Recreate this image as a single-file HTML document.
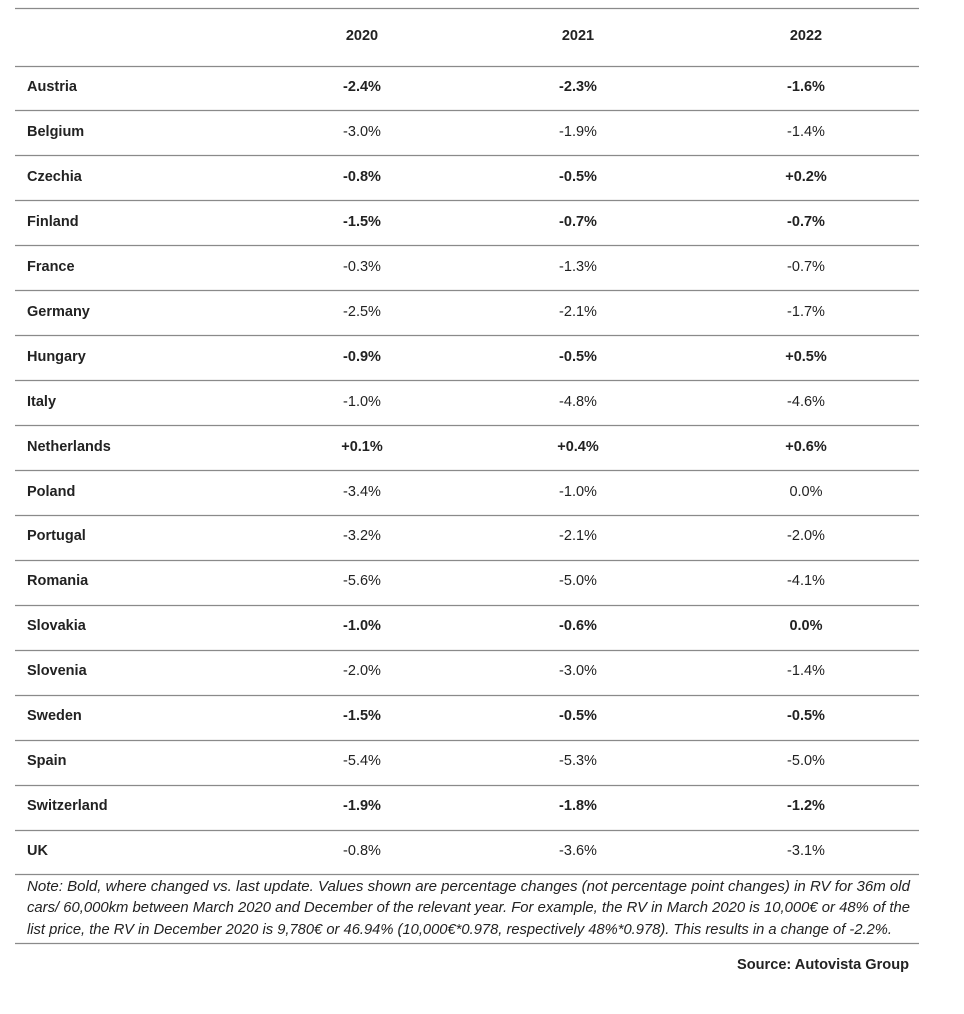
<!DOCTYPE html>
<html><head><meta charset="utf-8"><style>
body{margin:0;background:#fff}
svg text{font-family:"Liberation Sans",sans-serif;font-size:14.5px;fill:#222}
.b{font-weight:bold}
.c{text-anchor:middle}
</style></head><body>
<svg width="964" height="1009" xmlns="http://www.w3.org/2000/svg">
<g stroke="#8a8a8a" stroke-width="1.3">
<line x1="15" x2="919" y1="8.5" y2="8.5"/>
<line x1="15" x2="919" y1="66.5" y2="66.5"/>
<line x1="15" x2="919" y1="110.5" y2="110.5"/>
<line x1="15" x2="919" y1="155.5" y2="155.5"/>
<line x1="15" x2="919" y1="200.5" y2="200.5"/>
<line x1="15" x2="919" y1="245.5" y2="245.5"/>
<line x1="15" x2="919" y1="290.5" y2="290.5"/>
<line x1="15" x2="919" y1="335.5" y2="335.5"/>
<line x1="15" x2="919" y1="380.5" y2="380.5"/>
<line x1="15" x2="919" y1="425.5" y2="425.5"/>
<line x1="15" x2="919" y1="470.5" y2="470.5"/>
<line x1="15" x2="919" y1="515.5" y2="515.5"/>
<line x1="15" x2="919" y1="560.5" y2="560.5"/>
<line x1="15" x2="919" y1="605.5" y2="605.5"/>
<line x1="15" x2="919" y1="650.5" y2="650.5"/>
<line x1="15" x2="919" y1="695.5" y2="695.5"/>
<line x1="15" x2="919" y1="740.5" y2="740.5"/>
<line x1="15" x2="919" y1="785.5" y2="785.5"/>
<line x1="15" x2="919" y1="830.5" y2="830.5"/>
<line x1="15" x2="919" y1="874.5" y2="874.5"/>
<line x1="15" x2="919" y1="943.5" y2="943.5"/>
</g>
<text class="b c" x="362" y="40">2020</text><text class="b c" x="578" y="40">2021</text><text class="b c" x="806" y="40">2022</text>

<text class="b" x="27" y="91">Austria</text><text class="b c" x="362" y="91">-2.4%</text><text class="b c" x="578" y="91">-2.3%</text><text class="b c" x="806" y="91">-1.6%</text>
<text class="b" x="27" y="136">Belgium</text><text class="c" x="362" y="136">-3.0%</text><text class="c" x="578" y="136">-1.9%</text><text class="c" x="806" y="136">-1.4%</text>
<text class="b" x="27" y="181">Czechia</text><text class="b c" x="362" y="181">-0.8%</text><text class="b c" x="578" y="181">-0.5%</text><text class="b c" x="806" y="181">+0.2%</text>
<text class="b" x="27" y="226">Finland</text><text class="b c" x="362" y="226">-1.5%</text><text class="b c" x="578" y="226">-0.7%</text><text class="b c" x="806" y="226">-0.7%</text>
<text class="b" x="27" y="271">France</text><text class="c" x="362" y="271">-0.3%</text><text class="c" x="578" y="271">-1.3%</text><text class="c" x="806" y="271">-0.7%</text>
<text class="b" x="27" y="316">Germany</text><text class="c" x="362" y="316">-2.5%</text><text class="c" x="578" y="316">-2.1%</text><text class="c" x="806" y="316">-1.7%</text>
<text class="b" x="27" y="361">Hungary</text><text class="b c" x="362" y="361">-0.9%</text><text class="b c" x="578" y="361">-0.5%</text><text class="b c" x="806" y="361">+0.5%</text>
<text class="b" x="27" y="406">Italy</text><text class="c" x="362" y="406">-1.0%</text><text class="c" x="578" y="406">-4.8%</text><text class="c" x="806" y="406">-4.6%</text>
<text class="b" x="27" y="451">Netherlands</text><text class="b c" x="362" y="451">+0.1%</text><text class="b c" x="578" y="451">+0.4%</text><text class="b c" x="806" y="451">+0.6%</text>
<text class="b" x="27" y="496">Poland</text><text class="c" x="362" y="496">-3.4%</text><text class="c" x="578" y="496">-1.0%</text><text class="c" x="806" y="496">0.0%</text>
<text class="b" x="27" y="540">Portugal</text><text class="c" x="362" y="540">-3.2%</text><text class="c" x="578" y="540">-2.1%</text><text class="c" x="806" y="540">-2.0%</text>
<text class="b" x="27" y="585">Romania</text><text class="c" x="362" y="585">-5.6%</text><text class="c" x="578" y="585">-5.0%</text><text class="c" x="806" y="585">-4.1%</text>
<text class="b" x="27" y="630">Slovakia</text><text class="b c" x="362" y="630">-1.0%</text><text class="b c" x="578" y="630">-0.6%</text><text class="b c" x="806" y="630">0.0%</text>
<text class="b" x="27" y="675">Slovenia</text><text class="c" x="362" y="675">-2.0%</text><text class="c" x="578" y="675">-3.0%</text><text class="c" x="806" y="675">-1.4%</text>
<text class="b" x="27" y="720">Sweden</text><text class="b c" x="362" y="720">-1.5%</text><text class="b c" x="578" y="720">-0.5%</text><text class="b c" x="806" y="720">-0.5%</text>
<text class="b" x="27" y="765">Spain</text><text class="c" x="362" y="765">-5.4%</text><text class="c" x="578" y="765">-5.3%</text><text class="c" x="806" y="765">-5.0%</text>
<text class="b" x="27" y="810">Switzerland</text><text class="b c" x="362" y="810">-1.9%</text><text class="b c" x="578" y="810">-1.8%</text><text class="b c" x="806" y="810">-1.2%</text>
<text class="b" x="27" y="855">UK</text><text class="c" x="362" y="855">-0.8%</text><text class="c" x="578" y="855">-3.6%</text><text class="c" x="806" y="855">-3.1%</text>

<text x="27" y="891" font-style="italic" textLength="883" lengthAdjust="spacingAndGlyphs">Note: Bold, where changed vs. last update. Values shown are percentage changes (not percentage point changes) in RV for 36m old</text>
<text x="27" y="912" font-style="italic" textLength="883" lengthAdjust="spacingAndGlyphs">cars/ 60,000km between March 2020 and December of the relevant year. For example, the RV in March 2020 is 10,000€ or 48% of the</text>
<text x="27" y="934" font-style="italic" textLength="865" lengthAdjust="spacingAndGlyphs">list price, the RV in December 2020 is 9,780€ or 46.94% (10,000€*0.978, respectively 48%*0.978). This results in a change of -2.2%.</text>
<text class="b" x="909" y="969" text-anchor="end" textLength="172" lengthAdjust="spacingAndGlyphs">Source: Autovista Group</text>
</svg>
</body></html>
